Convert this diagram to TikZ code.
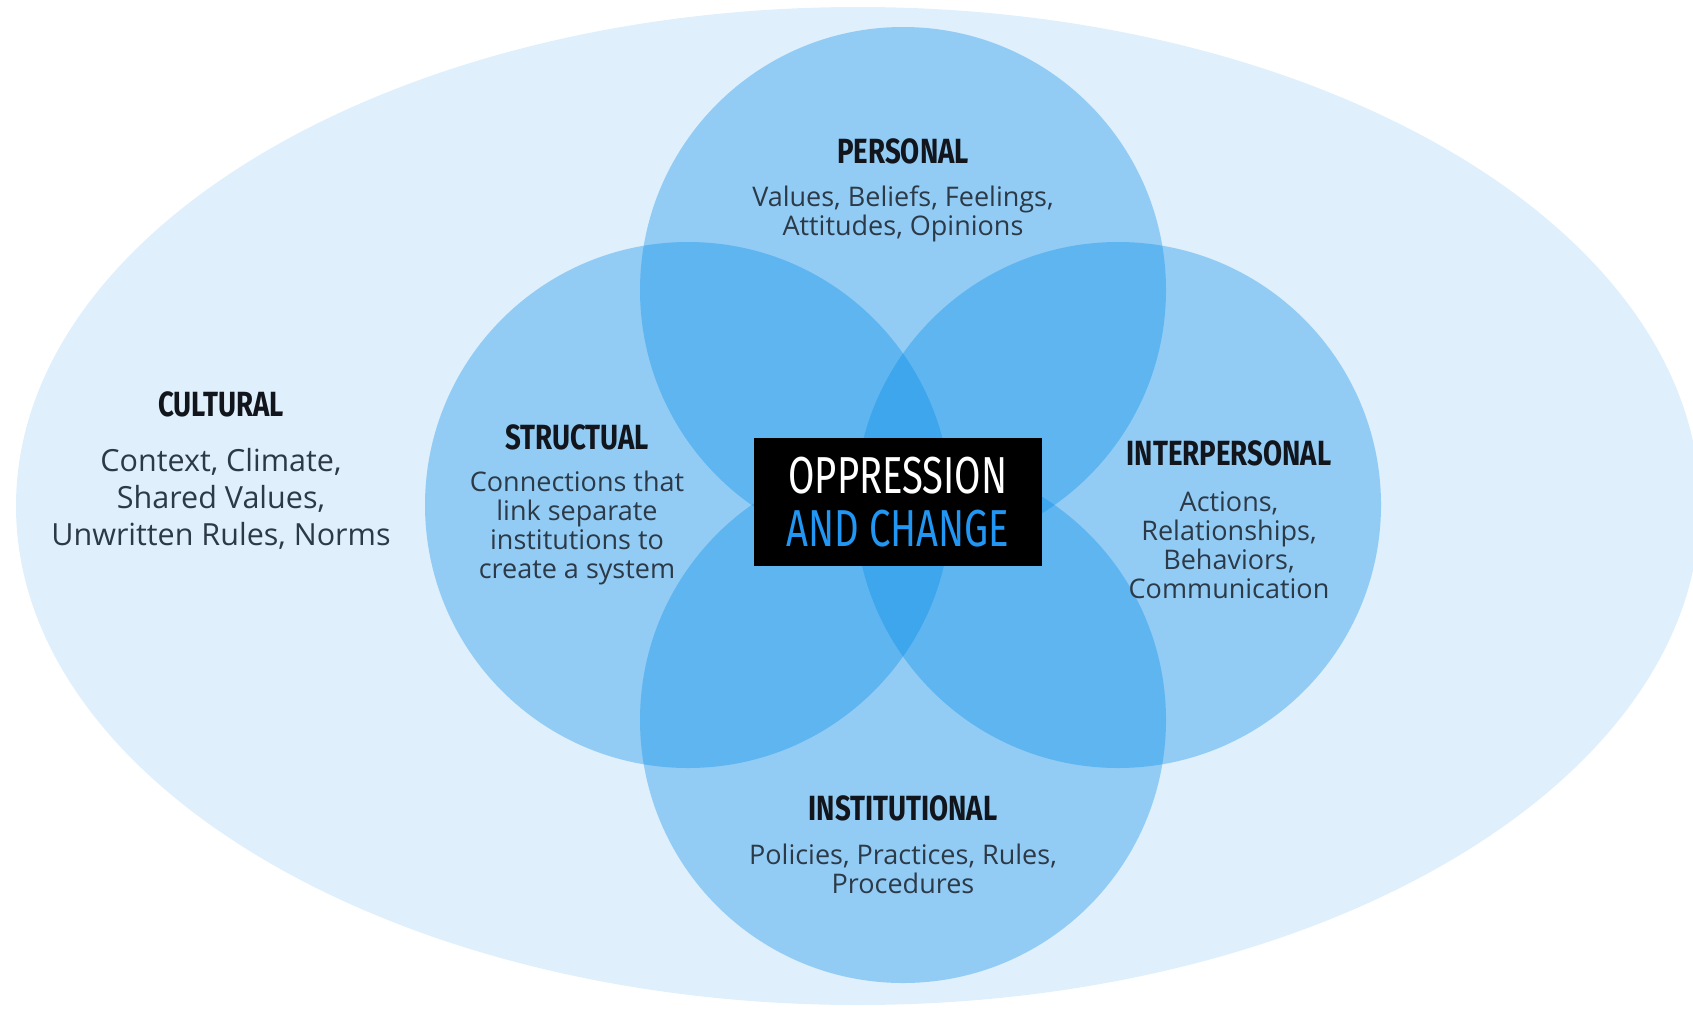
\documentclass[tikz,border=0pt]{standalone}
\usepackage{fontspec}
\setmainfont{Open Sans}
\newfontfamily\headfont[FakeStretch=0.79]{Fira Sans}
\newfontfamily\titlefont[FakeStretch=0.735]{Fira Sans}

\definecolor{ring}{HTML}{DFF0FC}
\definecolor{petal}{HTML}{008AE8}
\definecolor{headink}{HTML}{12161C}
\definecolor{bodyink}{HTML}{2C3947}
\definecolor{accent}{HTML}{2196F3}

\tikzset{
  petalfill/.style={fill=petal, fill opacity=0.345},
  heading/.style={font=\headfont\bfseries\fontsize{35}{37}\selectfont,
    text=headink, inner sep=0pt},
  body/.style={font=\fontsize{27}{29}\selectfont, text=bodyink,
    align=center, inner sep=0pt},
  bigbody/.style={font=\fontsize{30.5}{37}\selectfont, text=bodyink,
    align=center, inner sep=0pt},
  corebox/.style={fill=black, inner sep=0pt, minimum width=288pt,
    minimum height=128pt, align=center, text=white,
    font=\titlefont\fontsize{52}{53}\selectfont},
}

\begin{document}
\begin{tikzpicture}[x=1pt, y=-1pt]
  \useasboundingbox (0,0) rectangle (1693,1009);
  \begin{scope}
    \clip (0,0) rectangle (1693,1009);
    % outer cultural field
    \fill[ring] (858,506) ellipse [x radius=842, y radius=499];
    % four overlapping circles
    \fill[petalfill] (903,290) circle [radius=263];
    \fill[petalfill] (688,505) circle [radius=263];
    \fill[petalfill] (1118,505) circle [radius=263];
    \fill[petalfill] (903,720) circle [radius=263];
  \end{scope}

  % central label
  \node[corebox] (core) at (898,502)
    {OPPRESSION\\\textcolor{accent}{AND CHANGE}};

  % personal
  \node[heading] (personal) at (903,151) {PERSONAL};
  \node[body] (personaltxt) at (903,214)
    {Values, Beliefs, Feelings,\\Attitudes, Opinions};

  % structural
  \node[heading] (structual) at (577,437) {STRUCTUAL};
  \node[body] (structualtxt) at (577,528)
    {Connections that\\link separate\\institutions to\\create a system};

  % interpersonal
  \node[heading] (interpersonal) at (1229,453) {INTERPERSONAL};
  \node[body] (interpersonaltxt) at (1229,545)
    {Actions,\\Relationships,\\Behaviors,\\Communication};

  % institutional
  \node[heading] (institutional) at (903,808) {INSTITUTIONAL};
  \node[body] (institutionaltxt) at (903,869)
    {Policies, Practices, Rules,\\Procedures};

  % cultural
  \node[heading] (cultural) at (221,404) {CULTURAL};
  \node[bigbody] (culturaltxt) at (221,499)
    {Context, Climate,\\Shared Values,\\Unwritten Rules, Norms};
\end{tikzpicture}
\end{document}
